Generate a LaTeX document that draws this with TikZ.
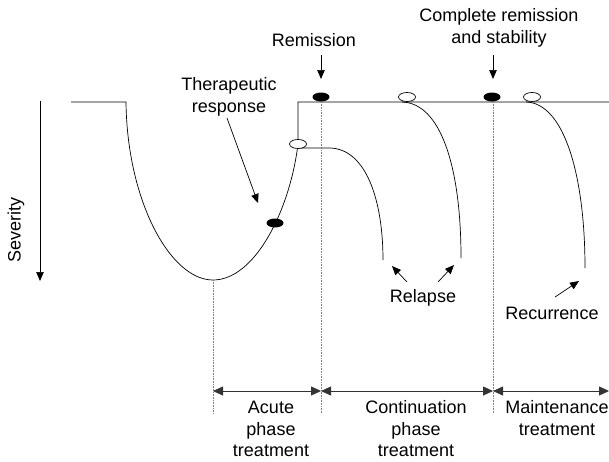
\documentclass[tikz,border=0pt]{standalone}
\usepackage{fontspec}
\setmainfont{Liberation Sans}
\usetikzlibrary{arrows.meta,shapes.geometric}
\begin{document}
\begin{tikzpicture}[x=1pt,y=-1pt,line width=0.7pt,
  lbl/.style={font=\fontsize{18}{21.5}\selectfont,align=center,inner sep=0pt,text=black},
  filledmark/.style={ellipse,fill=black,minimum width=17pt,minimum height=9pt,inner sep=0pt},
  hollowmark/.style={ellipse,draw,fill=white,line width=0.7pt,minimum width=17pt,minimum height=9pt,inner sep=0pt},
  guide/.style={densely dotted,gray,line width=0.6pt},
  arr/.style={-{Triangle[length=9pt,width=7.5pt]}},
  phase/.style={{Triangle[length=10pt,width=9pt]}-{Triangle[length=10pt,width=9pt]},line width=0.8pt,black!80}]
\useasboundingbox (0,0) rectangle (609,461);

% key coordinates
\coordinate (l0) at (71,102);
\coordinate (l1) at (126,102);
\coordinate (bot) at (213,280);
\coordinate (rise) at (298,144);
\coordinate (rtop) at (298,102);
\coordinate (rend) at (609,102);

% severity axis
\coordinate (sevtop) at (40,101);
\coordinate (sevbot) at (40,281);
\draw[arr] (sevtop) -- (sevbot);
\node[lbl,rotate=90] (sev) at (16,230) {Severity};

% main course
\draw (l0) -- (l1) .. controls (127,200) and (170,280) .. (bot)
      .. controls (255,280) and (290,210) .. (rise) -- (rtop) -- (rend);

% first relapse
\coordinate (r1a) at (298,148);
\coordinate (r1b) at (330,148);
\coordinate (r1e) at (383,260);
\draw (r1a) -- (r1b) .. controls (366,149) and (383,200) .. (r1e);

% second relapse
\coordinate (r2a) at (402,102);
\coordinate (r2e) at (461,258);
\draw (r2a) .. controls (440,103) and (461,165) .. (r2e);

% recurrence
\coordinate (r3a) at (526,102);
\coordinate (r3e) at (585,268);
\draw (r3a) .. controls (564,103) and (585,175) .. (r3e);

% guides
\coordinate (g1t) at (213,280);
\coordinate (g1b) at (213,413);
\coordinate (g2t) at (321,102);
\coordinate (g2b) at (321,413);
\coordinate (g3t) at (493,102);
\coordinate (g3b) at (493,413);
\draw[guide] (g1t) -- (g1b);
\draw[guide] (g2t) -- (g2b);
\draw[guide] (g3t) -- (g3b);

% markers
\node[filledmark] (resp) at (275,223) {};
\node[hollowmark] (o1) at (298,144) {};
\node[filledmark] (rem) at (321,97) {};
\node[hollowmark] (o2) at (407,97) {};
\node[filledmark] (crem) at (492,97) {};
\node[hollowmark] (o3) at (532,97) {};

% labels
\node[lbl] (remL) at (314,40) {Remission};
\node[lbl] (cremL) at (499,28) {Complete remission\\and stability};
\node[lbl] (thL) at (229,97) {Therapeutic\\response};
\node[lbl] (relL) at (423,298) {Relapse};
\node[lbl] (recL) at (552,313) {Recurrence};

% label arrows
\coordinate (remA) at (321,55);
\coordinate (remB) at (321,79);
\draw[arr] (remA) -- (remB);
\coordinate (cremA) at (493,55);
\coordinate (cremB) at (493,79);
\draw[arr] (cremA) -- (cremB);
\coordinate (thA) at (227,118);
\coordinate (thB) at (258,203);
\draw[arr] (thA) -- (thB);
\coordinate (rel1A) at (407,282);
\coordinate (rel1B) at (392,266);
\draw[arr] (rel1A) -- (rel1B);
\coordinate (rel2A) at (438,282);
\coordinate (rel2B) at (454,265);
\draw[arr] (rel2A) -- (rel2B);
\coordinate (recA) at (555,297);
\coordinate (recB) at (579,281);
\draw[arr] (recA) -- (recB);

% phases
\coordinate (p1) at (213,391);
\coordinate (p2) at (321,391);
\coordinate (p3) at (493,391);
\coordinate (p4) at (609,391);
\draw[phase] (p1) -- (p2);
\draw[phase] (p2) -- (p3);
\draw[phase] (p3) -- (p4);
\node[lbl] (acL) at (271,429) {Acute\\phase\\treatment};
\node[lbl] (coL) at (416,429) {Continuation\\phase\\treatment};
\node[lbl] (maL) at (557,418) {Maintenance\\treatment};
\end{tikzpicture}
\end{document}
